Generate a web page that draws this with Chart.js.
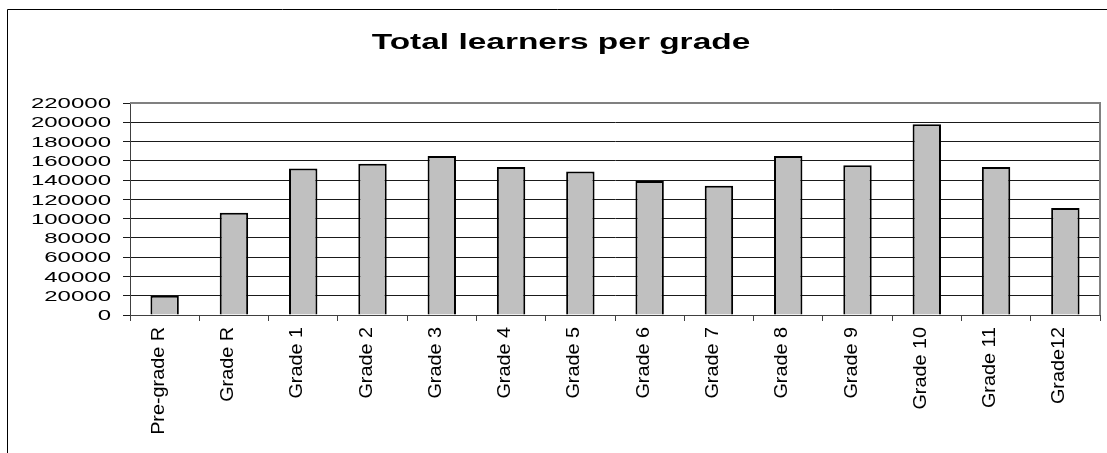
<!DOCTYPE html>
<html lang="en">

<head>
  <title>Total learners per grade</title>
  <script src="https://cdn.jsdelivr.net/npm/chart.js"></script>
  <meta charset="utf-8"/>
  <style>
    body {
      margin: 0;
      background: #fff;
    }

    #chart {
      width: 1107px;
      height: 453px;
    }
  </style>
</head>

<body>
  <div id="chart">
    <canvas id="my_chart"></canvas>
  </div>

<script>
var titleText = 'Total learners per grade';
var grades = ['Pre-grade R', 'Grade R', 'Grade 1', 'Grade 2', 'Grade 3', 'Grade 4', 'Grade 5',
  'Grade 6', 'Grade 7', 'Grade 8', 'Grade 9', 'Grade 10', 'Grade 11', 'Grade12'];
var learners = [20000, 106000, 152000, 157000, 165000, 153500, 149000,
  139000, 134000, 165000, 155500, 198000, 153500, 111000];
var yMax = 220000;
var yStep = 20000;

const FONT = '"Liberation Sans", Arial, sans-serif';

// the excel picture has its text stretched, so draw title + labels by hand
const excelText = {
  id: 'excelText',
  beforeDraw(chart) {
    const ctx = chart.ctx;
    ctx.save();
    ctx.strokeStyle = '#000';
    ctx.lineWidth = 1;
    ctx.beginPath();
    ctx.moveTo(7.5, chart.height);
    ctx.lineTo(7.5, 9.5);
    ctx.lineTo(chart.width, 9.5);
    ctx.stroke();
    ctx.restore();
  },
  afterDraw(chart) {
    const ctx = chart.ctx;
    const area = chart.chartArea;
    const xs = chart.scales.x;
    const ys = chart.scales.y;
    ctx.save();
    ctx.fillStyle = '#000';

    // title
    ctx.font = 'bold 22px ' + FONT;
    ctx.textAlign = 'center';
    ctx.textBaseline = 'alphabetic';
    ctx.save();
    ctx.translate(561, 49);
    ctx.scale(1.52, 1);
    ctx.fillText(titleText, 0, 0);
    ctx.restore();

    // y tick labels
    ctx.font = '15px ' + FONT;
    ctx.textAlign = 'right';
    ctx.textBaseline = 'middle';
    ys.ticks.forEach(t => {
      ctx.save();
      ctx.translate(area.left - 19, ys.getPixelForValue(t.value) + 1);
      ctx.scale(1.6, 1);
      ctx.fillText(String(t.value), 0, 0);
      ctx.restore();
    });

    // x labels, rotated
    ctx.font = '18px ' + FONT;
    ctx.textAlign = 'right';
    ctx.textBaseline = 'alphabetic';
    grades.forEach((g, i) => {
      ctx.save();
      ctx.translate(xs.getPixelForValue(i) - 1, area.bottom + 12);
      ctx.rotate(-Math.PI / 2);
      ctx.scale(1.1, 1);
      ctx.fillText(g, 0, 0);
      ctx.restore();
    });

    // plot area frame top / right
    ctx.strokeStyle = '#808080';
    ctx.lineWidth = 2;
    ctx.beginPath();
    ctx.moveTo(area.left, area.top);
    ctx.lineTo(area.right, area.top);
    ctx.lineTo(area.right, area.bottom);
    ctx.stroke();
    ctx.restore();
  }
};

window.onload = function () {
  const data = {
    labels: grades,
    datasets: [{
      label: 'Learners',
      data: learners,
      backgroundColor: '#c0c0c0',
      borderColor: '#000',
      borderWidth: 2,
      barPercentage: 0.41,
      categoryPercentage: 1.0
    }]
  };

  const config = {
    type: 'bar',
    data: data,
    plugins: [excelText],
    options: {
      responsive: true,
      maintainAspectRatio: false,
      animation: false,
      layout: {
        padding: { top: 103, right: 7, left: 0, bottom: 0 }
      },
      plugins: {
        legend: { display: false },
        title: { display: false },
        tooltip: { enabled: false }
      },
      scales: {
        x: {
          offset: true,
          grid: {
            offset: true,
            drawOnChartArea: false,
            drawTicks: true,
            tickLength: 6,
            color: '#404040'
          },
          border: { color: '#404040' },
          ticks: { display: false },
          afterFit: s => { s.height = 138; }
        },
        y: {
          min: 0,
          max: yMax,
          ticks: { stepSize: yStep, display: false },
          grid: { color: '#1a1a1a', tickLength: 7 },
          border: { color: '#404040' },
          afterFit: s => { s.width = 130; }
        }
      }
    }
  };

  const ctx = document.getElementById('my_chart').getContext('2d');
  new Chart(ctx, config);
}
</script>

</body>

</html>
